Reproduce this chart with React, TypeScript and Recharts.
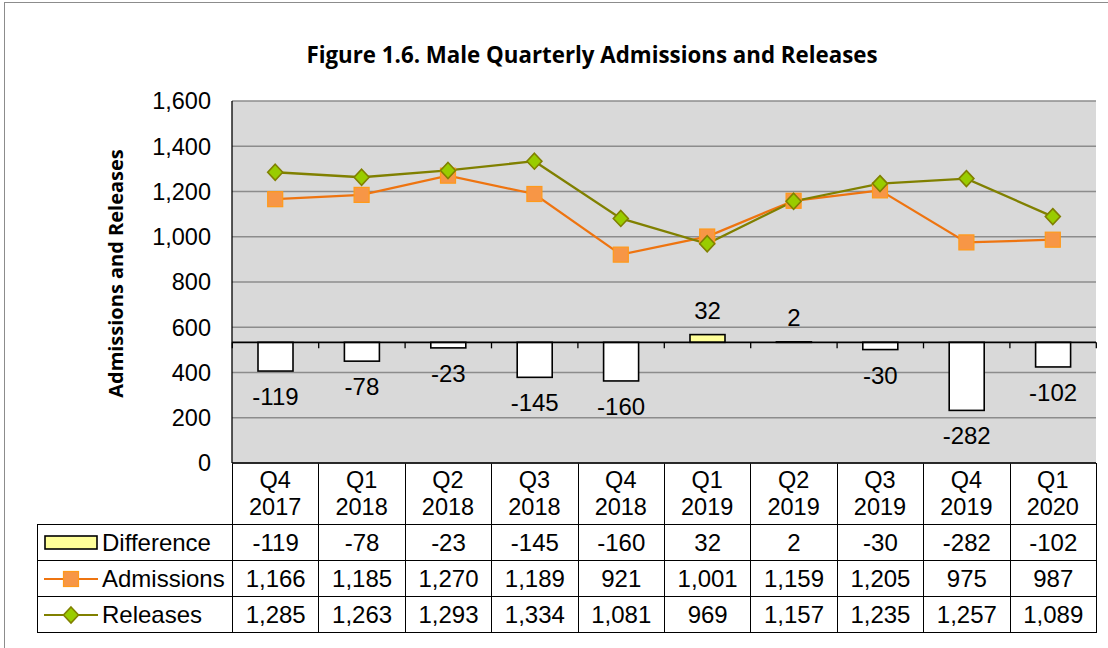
import React from "react";
import {
  ComposedChart,
  Bar,
  Line,
  XAxis,
  YAxis,
  CartesianGrid,
  ReferenceLine,
  LabelList,
} from "recharts";

const quarters = ["Q4", "Q1", "Q2", "Q3", "Q4", "Q1", "Q2", "Q3", "Q4", "Q1"];
const years = ["2017", "2018", "2018", "2018", "2018", "2019", "2019", "2019", "2019", "2020"];
const difference = [-119, -78, -23, -145, -160, 32, 2, -30, -282, -102];
const admissions = [1166, 1185, 1270, 1189, 921, 1001, 1159, 1205, 975, 987];
const releases = [1285, 1263, 1293, 1334, 1081, 969, 1157, 1235, 1257, 1089];
const yTicks = [0, 200, 400, 600, 800, 1000, 1200, 1400, 1600];
const diffDomain = [-500, 1000];

const data = quarters.map((q, i) => ({
  label: `${q}\n${years[i]}`,
  difference: difference[i],
  admissions: admissions[i],
  releases: releases[i],
}));

const W = 1108;
const H = 648;
const PLOT_LEFT = 232;
const PLOT_TOP = 101;
const PLOT_RIGHT = 1096;
const PLOT_BOTTOM = 463;
const CHART_H = 524;
const BAND = (PLOT_RIGHT - PLOT_LEFT) / data.length;
const FIRST_COL = PLOT_LEFT - 37;

const FONT = "'Liberation Sans', Arial, sans-serif";
const TITLE_FONT = "'Open Sans', 'Noto Sans', sans-serif";

const C = {
  plot: "#D9D9D9",
  grid: "#8C8C8C",
  border: "#808080",
  pos: "#FFFF99",
  neg: "#FFFFFF",
  admLine: "#EE7410",
  admFill: "#F79646",
  admStroke: "#FF9A1A",
  relLine: "#808000",
  relFill: "#99CC00",
};

const fmt = (v: number) => v.toLocaleString("en-US");

function DiffBar(props: any) {
  const { x, y, width, height, payload, index } = props;
  const v = payload.difference;
  const top = Math.min(y, y + height);
  const bottom = Math.max(y, y + height);
  const base = v < 0 ? top : bottom;
  const cx = x + width / 2;
  return (
    <g>
      <rect
        x={x}
        y={top}
        width={width}
        height={Math.max(bottom - top, 0.5)}
        fill={v < 0 ? C.neg : C.pos}
        stroke="#000"
        strokeWidth={1.6}
      />
      <line x1={cx - BAND / 2} x2={cx - BAND / 2} y1={base} y2={base + 6} stroke="#000" strokeWidth={1.3} />
      {index === data.length - 1 && (
        <line x1={cx + BAND / 2} x2={cx + BAND / 2} y1={base} y2={base + 6} stroke="#000" strokeWidth={1.3} />
      )}
    </g>
  );
}

function DiffLabel(props: any) {
  const { x, y, width, height, value } = props;
  const top = Math.min(y, y + height);
  const bottom = Math.max(y, y + height);
  const ty = value < 0 ? bottom + 34 : top - 16;
  return (
    <text x={x + width / 2} y={ty} textAnchor="middle" fontFamily={FONT} fontSize={24} fill="#000">
      {value}
    </text>
  );
}

function SquareDot(props: any) {
  const { cx, cy } = props;
  return <rect x={cx - 7.5} y={cy - 7.5} width={15} height={15} fill={C.admFill} stroke={C.admStroke} strokeWidth={1.2} />;
}

function DiamondDot(props: any) {
  const { cx, cy } = props;
  return (
    <path
      d={`M${cx},${cy - 8} L${cx + 7.5},${cy} L${cx},${cy + 8} L${cx - 7.5},${cy} Z`}
      fill={C.relFill}
      stroke={C.relLine}
      strokeWidth={1.6}
    />
  );
}

function CatTick(props: any) {
  const { x, y, payload } = props;
  const [q, yr] = String(payload.value).split("\n");
  return (
    <text x={x} textAnchor="middle" fontFamily={FONT} fontSize={23.5} fill="#000">
      <tspan x={x} y={y + 25}>{q}</tspan>
      <tspan x={x} y={y + 52}>{yr}</tspan>
    </text>
  );
}

function LegendKey({ kind }: { kind: string }) {
  return (
    <svg width={54} height={20} style={{ verticalAlign: "middle" }}>
      {kind === "diff" && <rect x={1} y={3} width={52} height={13} fill={C.pos} stroke="#000" strokeWidth={1.6} />}
      {kind === "adm" && (
        <g>
          <line x1={0} x2={54} y1={10} y2={10} stroke={C.admLine} strokeWidth={2.2} />
          <SquareDot cx={27} cy={10} />
        </g>
      )}
      {kind === "rel" && (
        <g>
          <line x1={0} x2={54} y1={10} y2={10} stroke={C.relLine} strokeWidth={2.2} />
          <DiamondDot cx={27} cy={10} />
        </g>
      )}
    </svg>
  );
}

const rows = [
  { name: "Difference", kind: "diff", values: difference },
  { name: "Admissions", kind: "adm", values: admissions },
  { name: "Releases", kind: "rel", values: releases },
];

const cell: React.CSSProperties = {
  border: "1.3px solid #000",
  padding: 0,
  textAlign: "center",
  fontFamily: FONT,
  fontSize: 24,
  color: "#000",
  height: 35,
  lineHeight: "24px",
};

export default function App() {
  return (
    <div style={{ position: "absolute", left: 0, top: 0, width: W, height: H, overflow: "hidden", background: "#fff" }}>
      <div
        style={{
          position: "absolute",
          left: 4,
          top: 2,
          width: 1300,
          height: 900,
          border: "1.5px solid #8C8C8C",
        }}
      />
      <svg width={W} height={CHART_H} style={{ position: "absolute", left: 0, top: 0 }}>
        <text
          x={592}
          y={63}
          textAnchor="middle"
          fontFamily={TITLE_FONT}
          fontWeight="bold"
          fontSize={22.3}
          fill="#000"
        >
          Figure 1.6. Male Quarterly Admissions and Releases
        </text>
        <text
          transform="translate(123,273.5) rotate(-90)"
          textAnchor="middle"
          fontFamily={TITLE_FONT}
          fontWeight="bold"
          fontSize={20}
          fill="#000"
        >
          Admissions and Releases
        </text>
      </svg>
      <table
        style={{
          position: "absolute",
          left: 37,
          top: PLOT_BOTTOM,
          width: PLOT_RIGHT - 37,
          borderCollapse: "collapse",
          tableLayout: "fixed",
        }}
      >
        <colgroup>
          <col style={{ width: FIRST_COL }} />
          {data.map((d, i) => (
            <col key={i} style={{ width: BAND }} />
          ))}
        </colgroup>
        <tbody>
          <tr>
            <td style={{ ...cell, border: "none", borderRight: "1.3px solid #000", height: CHART_H - PLOT_BOTTOM }} />
            {data.map((d, i) => (
              <td key={i} style={{ ...cell, borderTop: "none", height: CHART_H - PLOT_BOTTOM }} />
            ))}
          </tr>
          {rows.map((r) => (
            <tr key={r.name}>
              <td style={{ ...cell, textAlign: "left", paddingLeft: 6, whiteSpace: "nowrap" }}>
                <LegendKey kind={r.kind} />
                <span style={{ verticalAlign: "middle", marginLeft: 4 }}>{r.name}</span>
              </td>
              {r.values.map((v, i) => (
                <td key={i} style={cell}>
                  {fmt(v)}
                </td>
              ))}
            </tr>
          ))}
        </tbody>
      </table>
      <div style={{ position: "absolute", left: 0, top: 0 }}>
        <ComposedChart
          width={W}
          height={CHART_H}
          data={data}
          margin={{ top: PLOT_TOP, right: W - PLOT_RIGHT, bottom: 0, left: 0 }}
          barSize={35}
        >
          <CartesianGrid vertical={false} fill={C.plot} stroke={C.grid} strokeWidth={1.6} yAxisId="left" />
          <XAxis
            dataKey="label"
            interval={0}
            height={CHART_H - PLOT_BOTTOM}
            tickLine={false}
            tickSize={0}
            tickMargin={0}
            axisLine={{ stroke: "#000", strokeWidth: 1.3 }}
            tick={<CatTick />}
          />
          <YAxis
            yAxisId="left"
            width={PLOT_LEFT}
            domain={[0, 1600]}
            ticks={yTicks}
            tickFormatter={fmt}
            tickLine={false}
            tickSize={0}
            tickMargin={21}
            axisLine={{ stroke: "#000", strokeWidth: 1.3 }}
            tick={{ fill: "#000", fontFamily: FONT, fontSize: 23.5 }}
          />
          <YAxis
            yAxisId="diff"
            orientation="right"
            width={0}
            domain={diffDomain}
            allowDataOverflow
            tick={false}
            tickLine={false}
            axisLine={{ stroke: C.border, strokeWidth: 2 }}
          />
          <ReferenceLine yAxisId="diff" y={0} stroke="#000" strokeWidth={1.6} />
          <Bar yAxisId="diff" dataKey="difference" shape={<DiffBar />} isAnimationActive={false}>
            <LabelList dataKey="difference" content={<DiffLabel />} />
          </Bar>
          <Line
            yAxisId="left"
            type="linear"
            dataKey="admissions"
            stroke={C.admLine}
            strokeWidth={2.3}
            dot={<SquareDot />}
            activeDot={false}
            isAnimationActive={false}
          />
          <Line
            yAxisId="left"
            type="linear"
            dataKey="releases"
            stroke={C.relLine}
            strokeWidth={2.3}
            dot={<DiamondDot />}
            activeDot={false}
            isAnimationActive={false}
          />
        </ComposedChart>
      </div>
    </div>
  );
}
